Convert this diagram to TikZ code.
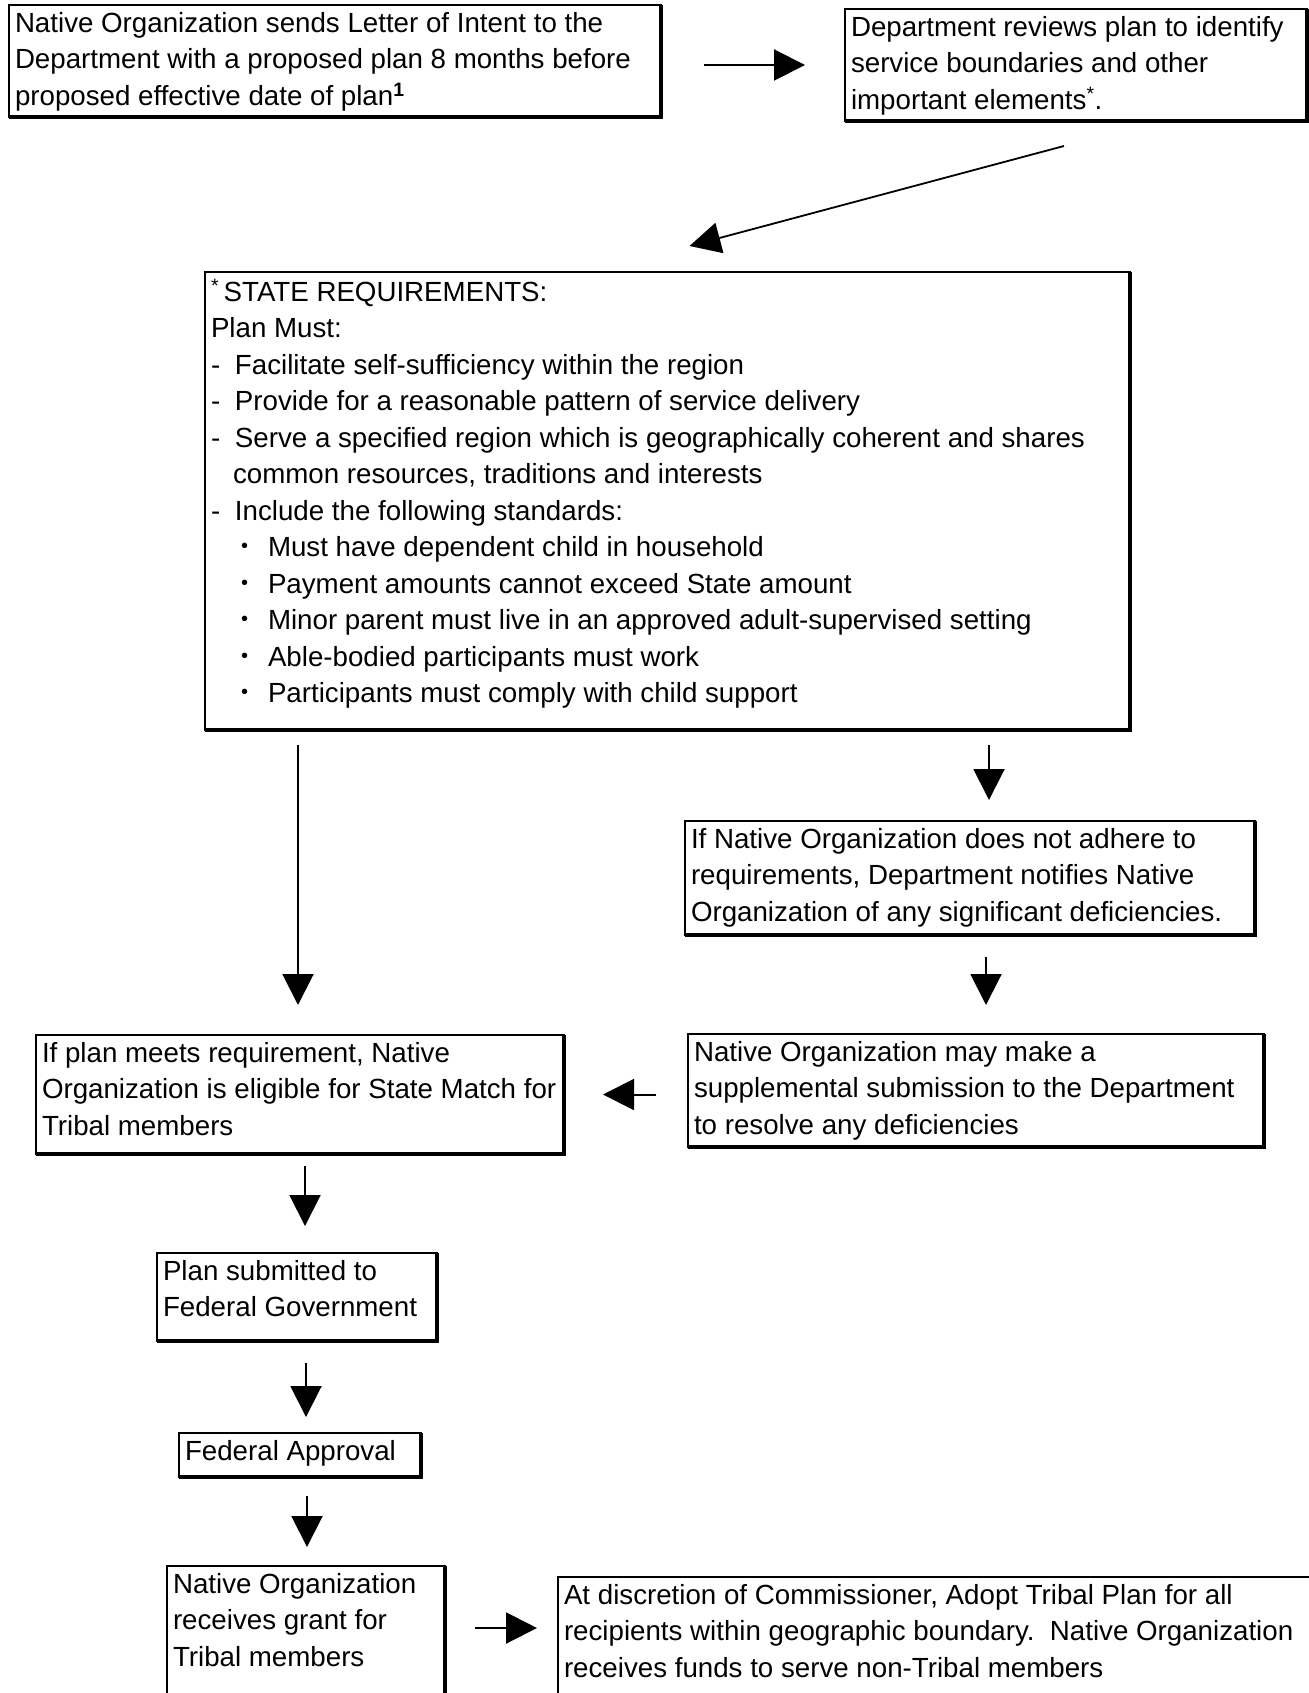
\documentclass[tikz,border=0pt]{standalone}
\usepackage{fontspec}
\setmainfont{Liberation Sans}
\usetikzlibrary{arrows.meta,calc}
\newcommand\bxt[3]{\begin{minipage}[t][#2pt][t]{#1pt}\raggedright\fontsize{27.7}{36.5}\selectfont #3\end{minipage}}
\newcommand\boxshade[1]{\draw[line width=4pt] (#1.north east) -- (#1.south east) -- (#1.south west);}
\newcommand\dsh{\makebox[24pt][l]{-}}
\newcommand\bul{\hspace*{30pt}\makebox[27pt][l]{\raisebox{4pt}{\fontsize{20}{20}\selectfont •}}}
\tikzset{
  bx/.style={anchor=north west, inner xsep=6pt, inner ysep=7pt, line width=1.5pt, draw, outer sep=0pt},
  arr/.style={line width=2pt, -{Triangle[length=31pt,width=31pt]}},
}
\begin{document}
\begin{tikzpicture}[x=1pt,y=-1pt]
\useasboundingbox (0,0) rectangle (1308,1693);
\fill[white] (0,0) rectangle (1308,1693);

\node[bx] (b1) at (9,5) {\bxt{640}{98}{Native Organization sends Letter of Intent to the\\Department with a proposed plan 8 months before\\proposed effective date of plan\textsuperscript{\textbf{1}}}};
\node[bx] (b2) at (845,9) {\bxt{450}{98}{Department reviews plan to identify\\service boundaries and other\\important elements\textsuperscript{*}.}};
\node[bx] (big) at (205,272) {\bxt{913}{444}{\textsuperscript{*}\,STATE REQUIREMENTS:\\
Plan Must:\\
\dsh Facilitate self-sufficiency within the region\\
\dsh Provide for a reasonable pattern of service delivery\\
\dsh Serve a specified region which is geographically coherent and shares\\
\hspace*{22pt}common resources, traditions and interests\\
\dsh Include the following standards:\\
\bul Must have dependent child in household\\
\bul Payment amounts cannot exceed State amount\\
\bul Minor parent must live in an approved adult-supervised setting\\
\bul Able-bodied participants must work\\
\bul Participants must comply with child support}};
\node[bx] (b4) at (685,821) {\bxt{558}{100}{If Native Organization does not adhere to\\requirements, Department notifies Native\\Organization of any significant deficiencies.}};
\node[bx] (b5) at (688,1034) {\bxt{564}{99}{Native Organization may make a\\supplemental submission to the Department\\to resolve any deficiencies}};
\node[bx] (b6) at (36,1035) {\bxt{516}{105}{If plan meets requirement, Native\\Organization is eligible for State Match for\\Tribal members}};
\node[bx] (b7) at (157,1253) {\bxt{268}{74}{Plan submitted to\\Federal Government}};
\node[bx] (b8) at (179,1433) {\bxt{230}{30}{Federal Approval}};
\node[bx] (b9) at (167,1566) {\bxt{266}{122}{Native Organization\\receives grant for\\Tribal members}};
\node[bx] (b10) at (558,1577) {\bxt{748}{111}{At discretion of Commissioner, Adopt Tribal Plan for all\\recipients within geographic boundary.\ \ Native Organization\\receives funds to serve non-Tribal members}};

\foreach \n in {b1,b2,big,b4,b5,b6,b7,b8,b9,b10} {\boxshade{\n}}

% connectors
\draw[arr, shorten <=43pt, shorten >=40pt] (b1.east |- b2.west) -- (b2.west);
\coordinate (d1) at ($(b2.south)+(-12,25)$);
\coordinate (d2) at ($(big.north)+(22,-26)$);
\draw[arr, line width=1.8pt] (d1) -- (d2);
\draw[arr, shorten <=15pt, shorten >=30pt] ([xshift=-2]b6.north |- big.south) -- ([xshift=-2]b6.north);
\draw[arr, shorten <=15pt, shorten >=21pt] ([xshift=19]b4.north |- big.south) -- ([xshift=19]b4.north);
\draw[arr, shorten <=22pt, shorten >=29pt] ([xshift=16]b4.south) -- ([xshift=16]b4.south |- b5.north);
\draw[arr, shorten <=32pt, shorten >=39pt] (b5.west |- b6.east) -- (b6.east);
\draw[arr, shorten <=12pt, shorten >=27pt] ([xshift=5]b6.south) -- ([xshift=5]b6.south |- b7.north);
\draw[arr, shorten <=22pt, shorten >=16pt] ([xshift=9]b7.south) -- ([xshift=9]b7.south |- b8.north);
\draw[arr, shorten <=19pt, shorten >=19pt] ([xshift=7]b8.south) -- ([xshift=7]b8.south |- b9.north);
\draw[arr, shorten <=30pt, shorten >=21pt] ([yshift=-51]b10.north west -| b9.east) -- ([yshift=-51]b10.north west);
\end{tikzpicture}
\end{document}
